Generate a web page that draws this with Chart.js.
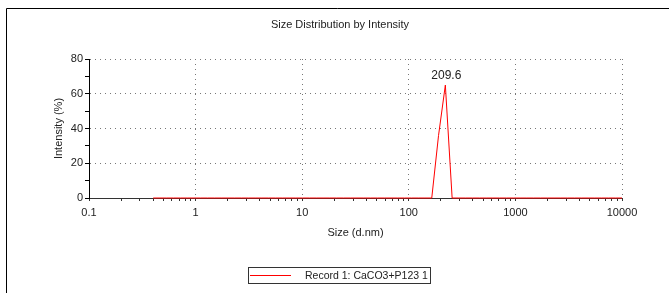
<!DOCTYPE html>
<html>
<head>
<meta charset="utf-8">
<script src="https://cdn.jsdelivr.net/npm/chart.js@4"></script>
<style>
html, body { margin: 0; padding: 0; background: #fff; }
</style>
</head>
<body>
<canvas id="sizeChart" width="669" height="293"></canvas>
<script>
// size classes (d.nm)
const sizes = [
  0.4, 0.4632, 0.5365, 0.6213, 0.7195, 0.8332, 0.9649, 1.117, 1.294, 1.499,
  1.736, 2.01, 2.328, 2.696, 3.122, 3.615, 4.187, 4.849, 5.615, 6.503,
  7.531, 8.721, 10.1, 11.7, 13.54, 15.69, 18.17, 21.04, 24.36, 28.21,
  32.67, 37.84, 43.82, 50.75, 58.77, 68.06, 78.82, 91.28, 105.7, 122.4,
  141.8, 164.2, 190.1, 220.2, 255.0, 295.3, 342.0, 396.1, 458.7, 531.2,
  615.1, 712.4, 825.0, 955.4, 1106, 1281, 1484, 1718, 1990, 2305,
  2669, 3091, 3580, 4145, 4801, 5560, 6439, 7456, 8635, 10000
];
// intensity (%)
const intensity = [
  0, 0, 0, 0, 0, 0, 0, 0, 0, 0,
  0, 0, 0, 0, 0, 0, 0, 0, 0, 0,
  0, 0, 0, 0, 0, 0, 0, 0, 0, 0,
  0, 0, 0, 0, 0, 0, 0, 0, 0, 0,
  0, 0, 36, 65, 0, 0, 0, 0, 0, 0,
  0, 0, 0, 0, 0, 0, 0, 0, 0, 0,
  0, 0, 0, 0, 0, 0, 0, 0, 0, 0
];
const decadeTicks = [0.1, 1, 10, 100, 1000, 10000];
const yLabelTicks = [0, 20, 40, 60, 80];
const seriesName = 'Record 1: CaCO3+P123 1';
const peakLabel = '209.6';
const chartTitle = 'Size Distribution by Intensity';

const FONT = 'Liberation Sans, Arial, sans-serif';

// minor ticks 2..9 inside each decade, labels only on decades
const xTickValues = [];
decadeTicks.forEach(function (d, i) {
  xTickValues.push(d);
  if (i < decadeTicks.length - 1) {
    for (let m = 2; m <= 9; m++) xTickValues.push(d * m);
  }
});

const decor = {
  id: 'decor',
  beforeDraw(chart) {
    const c = chart.ctx;
    c.save();
    c.fillStyle = '#fff';
    c.fillRect(0, 0, chart.width, chart.height);
    c.strokeStyle = '#000';
    c.lineWidth = 1;
    c.beginPath();
    c.moveTo(6.5, chart.height);
    c.lineTo(6.5, 8.5);
    c.lineTo(chart.width, 8.5);
    c.stroke();
    c.restore();
  },
  afterDatasetsDraw(chart) {
    const c = chart.ctx;
    const meta = chart.getDatasetMeta(0);
    let top = 0;
    intensity.forEach(function (v, i) { if (v > intensity[top]) top = i; });
    const pt = meta.data[top];
    c.save();
    c.fillStyle = '#222';
    c.font = '12px ' + FONT;
    c.textAlign = 'center';
    c.textBaseline = 'alphabetic';
    c.fillText(peakLabel, pt.x + 1, pt.y - 6);
    c.restore();
  },
  afterDraw(chart) {
    const c = chart.ctx;
    c.save();
    c.fillStyle = '#222';
    c.font = '11px ' + FONT;
    c.textAlign = 'center';
    c.textBaseline = 'middle';
    c.fillText(chartTitle, 340, 25);

    // legend box
    c.strokeStyle = '#333';
    c.lineWidth = 1;
    c.strokeRect(248.5, 267.5, 182, 16);
    c.strokeStyle = '#f00';
    c.beginPath();
    c.moveTo(250, 275.5);
    c.lineTo(291, 275.5);
    c.stroke();
    c.font = '10.5px ' + FONT;
    c.textAlign = 'left';
    c.fillText(seriesName, 305, 276);
    c.restore();
  }
};

new Chart(document.getElementById('sizeChart'), {
  type: 'scatter',
  data: {
    datasets: [{
      label: seriesName,
      data: sizes.map(function (s, i) { return { x: s, y: intensity[i] }; }),
      showLine: true,
      borderColor: '#ff0000',
      borderWidth: 1,
      pointRadius: 0,
      tension: 0,
      clip: false
    }]
  },
  options: {
    responsive: false,
    animation: false,
    layout: { padding: { top: 59, right: 47, bottom: 0, left: 0 } },
    plugins: {
      legend: { display: false },
      title: { display: false },
      tooltip: { enabled: false }
    },
    scales: {
      x: {
        type: 'logarithmic',
        position: 'bottom',
        min: 0.1,
        max: 10000,
        afterBuildTicks(scale) {
          scale.ticks = xTickValues.map(function (v) { return { value: v }; });
        },
        afterFit(scale) { scale.height = 95; },
        ticks: {
          autoSkip: false,
          maxRotation: 0,
          padding: 5,
          color: '#222',
          font: { family: FONT, size: 11 },
          callback(v) { return decadeTicks.includes(v) ? String(v) : ''; }
        },
        grid: {
          color(ctx) {
            const v = ctx.tick && ctx.tick.value;
            return decadeTicks.includes(v) && v !== 0.1 ? '#777' : 'rgba(0,0,0,0)';
          },
          tickColor: '#333',
          tickLength: 3,
          lineWidth: 1
        },
        border: { color: '#333', width: 1, dash: [1, 4] },
        title: {
          display: true,
          text: 'Size (d.nm)',
          color: '#222',
          font: { family: FONT, size: 11 },
          padding: { top: 0, bottom: 53 }
        }
      },
      y: {
        min: 0,
        max: 80,
        afterFit(scale) { scale.width = 89; },
        ticks: {
          stepSize: 10,
          padding: 2,
          color: '#222',
          font: { family: FONT, size: 11 },
          callback(v) { return yLabelTicks.includes(v) ? String(v) : ''; }
        },
        grid: {
          color(ctx) {
            const v = ctx.tick && ctx.tick.value;
            return v > 0 && yLabelTicks.includes(v) ? '#777' : 'rgba(0,0,0,0)';
          },
          tickColor: '#000',
          tickLength: 4,
          lineWidth: 1
        },
        border: { color: '#000', width: 1, dash: [1, 4] },
        title: {
          display: true,
          text: 'Intensity (%)',
          color: '#222',
          font: { family: FONT, size: 11 },
          padding: { top: 52, bottom: 0 }
        }
      }
    }
  },
  plugins: [decor]
});
</script>
</body>
</html>
